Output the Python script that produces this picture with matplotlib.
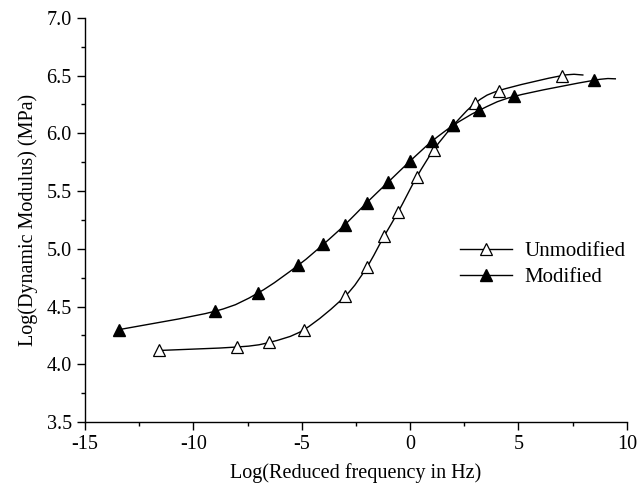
import numpy as np
import matplotlib
matplotlib.use("Agg")
import matplotlib.pyplot as plt
from matplotlib.ticker import MultipleLocator, FormatStrFormatter
from matplotlib.path import Path
from matplotlib.patches import PathPatch
from matplotlib.lines import Line2D

plt.rcParams['font.family'] = ['Liberation Serif', 'DejaVu Serif']
plt.rcParams['axes.unicode_minus'] = False

# Unmodified binder (open triangles)
freq_unmod = [-11.6, -8.0, -6.5, -4.9, -3.0, -2.0, -1.2, -0.55, 0.3, 1.1, 2.0, 3.0, 4.1, 7.0]
dm_unmod = [4.12, 4.15, 4.19, 4.30, 4.59, 4.84, 5.11, 5.32, 5.62, 5.86, 6.07, 6.26, 6.37, 6.50]
# Modified binder (filled triangles)
freq_mod = [-13.45, -9.0, -7.0, -5.15, -4.0, -3.0, -2.0, -1.0, 0.0, 1.0, 2.0, 3.2, 4.8, 8.5]
dm_mod = [4.30, 4.46, 4.62, 4.86, 5.04, 5.21, 5.40, 5.58, 5.76, 5.93, 6.07, 6.20, 6.32, 6.46]
# where the fitted master curves end beyond the last point
tail_unmod = (8.0, 6.505)
tail_mod = (9.5, 6.472)


def smooth_path(xs, ys):
    # catmull-rom through the points, drawn as cubic bezier segments
    p = np.column_stack([xs, ys])
    p = np.vstack([p[0], p, p[-1]])
    verts = [p[1]]
    codes = [Path.MOVETO]
    for i in range(1, len(p) - 2):
        c1 = p[i] + (p[i + 1] - p[i - 1]) / 6.0
        c2 = p[i + 1] - (p[i + 2] - p[i]) / 6.0
        verts += [c1, c2, p[i + 1]]
        codes += [Path.CURVE4] * 3
    return Path(verts, codes)


fig = plt.figure(figsize=(6.39, 4.96), dpi=100)
ax = fig.add_axes([0.133, 0.149, 0.848, 0.815])

for xs, ys, tail in [(freq_unmod, dm_unmod, tail_unmod), (freq_mod, dm_mod, tail_mod)]:
    path = smooth_path(xs + [tail[0]], ys + [tail[1]])
    ax.add_patch(PathPatch(path, fill=False, edgecolor='black', lw=1.0))

ax.plot(freq_unmod, dm_unmod, ls='none', marker='^', ms=9, mfc='white', mec='black', mew=0.9)
ax.plot(freq_mod, dm_mod, ls='none', marker='^', ms=9, mfc='black', mec='black')

ax.set_xlim(-15, 10)
ax.set_ylim(3.5, 7.0)
ax.xaxis.set_major_locator(MultipleLocator(5))
ax.xaxis.set_minor_locator(MultipleLocator(2.5))
ax.yaxis.set_major_locator(MultipleLocator(0.5))
ax.yaxis.set_minor_locator(MultipleLocator(0.25))
ax.yaxis.set_major_formatter(FormatStrFormatter('%.1f'))
for s in ['top', 'right']:
    ax.spines[s].set_visible(False)
for s in ['left', 'bottom']:
    ax.spines[s].set_linewidth(1.0)
ax.tick_params(which='major', direction='out', length=6, width=1.0, labelsize=14.5)
ax.tick_params(which='minor', direction='out', length=3, width=1.0)

ax.set_xlabel('Log(Reduced frequency in Hz)', fontsize=14.5, labelpad=6)
ax.set_ylabel('Log(Dynamic Modulus) (MPa)', fontsize=14.5, labelpad=6)

handles = [
    Line2D([], [], color='black', lw=1.0, marker='^', ms=9, mfc='white', mec='black', mew=0.9),
    Line2D([], [], color='black', lw=1.0, marker='^', ms=9, mfc='black', mec='black'),
]
ax.legend(handles, ['Unmodified', 'Modified'], loc='center left',
          bbox_to_anchor=(0.692, 0.39), frameon=False, fontsize=15,
          handlelength=2.5, handletextpad=0.6, labelspacing=0.3,
          borderpad=0, borderaxespad=0)

fig.savefig('out.png', dpi=100)
